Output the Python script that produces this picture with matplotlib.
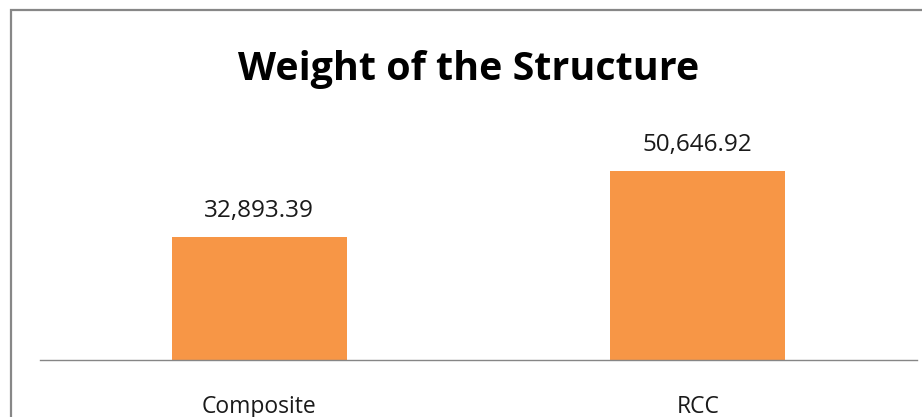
import matplotlib
matplotlib.use("Agg")
import matplotlib.pyplot as plt
from matplotlib.patches import Rectangle

categories = ["Composite", "RCC"]
values = [32893.39, 50646.92]
value_labels = ["32,893.39", "50,646.92"]
title = "Weight of the Structure"

W, H = 922, 417
fig = plt.figure(figsize=(W / 100, H / 100), dpi=100)
fig.patch.set_facecolor("white")

# outer chart frame (extends past the right/bottom edges)
frame = Rectangle((11 / W, -0.2), 1.2, 1 - 10 / H + 0.2, transform=fig.transFigure,
                  fill=False, edgecolor="#878787", linewidth=1.6, clip_on=False)
fig.patches.append(frame)

ax_left, ax_right = 40 / W, 917 / W
ax_bottom = 1 - 360 / H
ymax = 60000
px_per_unit = (360 - 170.7) / 50646.92
ax_top_px = 360 - ymax * px_per_unit
ax = fig.add_axes([ax_left, ax_bottom, ax_right - ax_left, (360 - ax_top_px) / H])

x = list(range(len(categories)))
ax.bar(x, values, width=0.4, color="#F79646", zorder=2)
ax.set_xlim(-0.5, 1.5)
ax.set_ylim(0, ymax)
for s in ["top", "left", "right"]:
    ax.spines[s].set_visible(False)
ax.spines["bottom"].set_color("#868686")
ax.spines["bottom"].set_linewidth(1.0)
ax.set_yticks([])
ax.set_xticks(x)
ax.set_xticklabels(categories, fontsize=16.5, family="Open Sans", color="#1a1a1a")
ax.tick_params(axis="x", length=0, pad=25)
ax.patch.set_alpha(0)

for xi, v, lab in zip(x, values, value_labels):
    ax.annotate(lab, (xi, v), xytext=(0, 20), textcoords="offset pixels",
                ha="center", va="baseline", fontsize=17.5, family="Open Sans", color="#1a1a1a")

fig.text(469 / W, 1 - 80 / H, title, ha="center", va="baseline", fontsize=28.4,
         fontweight="bold", family="Open Sans", color="black")

fig.savefig("out.png", dpi=100)
